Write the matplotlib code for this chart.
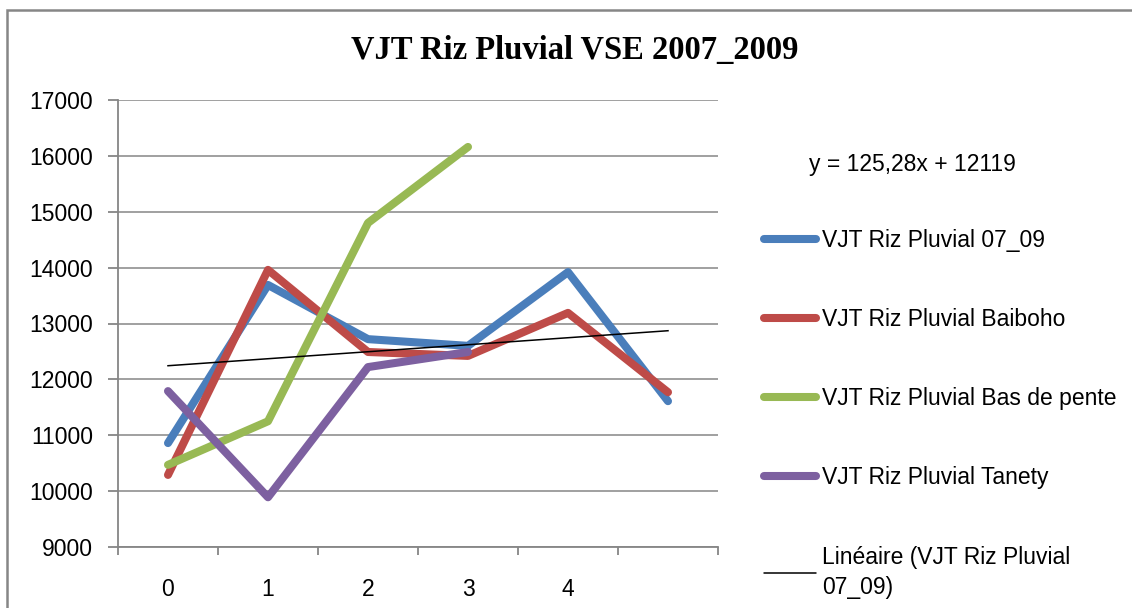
import matplotlib
matplotlib.use("Agg")
import matplotlib.pyplot as plt
from matplotlib.patches import Rectangle
import numpy as np

# ---- data ----
categories = ["0", "1", "2", "3", "4", ""]
serie_07_09 = [10860, 13690, 12720, 12600, 13920, 11610]
serie_baiboho = [10290, 13960, 12490, 12420, 13190, 11770]
serie_bas_de_pente = [10470, 11250, 14800, 16160]
serie_tanety = [11790, 9890, 12220, 12490]
trend_slope = 125.28
trend_intercept = 12119
trend_label = "y = 125,28x + 12119"
series_names = ["VJT Riz Pluvial 07_09", "VJT Riz Pluvial Baiboho",
                "VJT Riz Pluvial Bas de pente", "VJT Riz Pluvial Tanety"]
trend_name = "Linéaire (VJT Riz Pluvial\n07_09)"
title = "VJT Riz Pluvial VSE 2007_2009"
y_ticks = [9000, 10000, 11000, 12000, 13000, 14000, 15000, 16000, 17000]

colors = ["#4A7EBB", "#BE4B48", "#98B954", "#7D60A0"]
grid_col = "#868686"
FONT = "Liberation Sans"
FS = 16.5

W, H = 1132, 608
fig = plt.figure(figsize=(W / 100, H / 100), dpi=100)
ax = fig.add_axes([118 / W, 1 - 547 / H, 600 / W, 447 / H])

all_series = [serie_07_09, serie_baiboho, serie_bas_de_pente, serie_tanety]
for vals, col, name in zip(all_series, colors, series_names):
    x = np.arange(len(vals))
    ax.plot(x, vals, color=col, lw=5.8, solid_capstyle="round",
            solid_joinstyle="round", label=name, zorder=3)

# linear trendline (Excel x = 1..n)
xt = np.arange(len(serie_07_09))
yt = trend_slope * (xt + 1) + trend_intercept
ax.plot(xt, yt, color="black", lw=1.1, label=trend_name, zorder=5)

ax.set_xlim(-0.5, len(categories) - 0.5)
ax.set_ylim(y_ticks[0], y_ticks[-1])
ax.set_yticks(y_ticks)
ax.set_yticklabels([str(v) for v in y_ticks], fontfamily=FONT, fontsize=FS)
ax.set_xticks(np.arange(len(categories) + 1) - 0.5)
ax.set_xticklabels([])
ax.set_xticks(np.arange(len(categories)), minor=True)
ax.set_xticklabels(categories, minor=True, fontfamily=FONT, fontsize=FS)
ax.tick_params(axis="x", which="minor", length=0, pad=22)
ax.tick_params(axis="x", which="major", length=6, width=1.3, color=grid_col, direction="out")
ax.tick_params(axis="y", length=7, width=1.3, color=grid_col, direction="out", pad=11)
ax.grid(axis="y", color=grid_col, lw=1.1, zorder=1)
ax.set_axisbelow(True)
for s in ["top", "right"]:
    ax.spines[s].set_visible(False)
for s in ["left", "bottom"]:
    ax.spines[s].set_color(grid_col)
    ax.spines[s].set_linewidth(1.3)

fig.text(575 / W, 1 - 50 / H, title, ha="center", va="center",
         fontfamily="Liberation Serif", fontweight="bold", fontsize=23.5)

fig.text(912 / W, 1 - 165 / H, trend_label, ha="center", va="center",
         fontfamily=FONT, fontsize=FS)

leg = ax.legend(loc="upper left", bbox_to_anchor=(764 / W, 1 - 229 / H),
                bbox_transform=fig.transFigure, frameon=False,
                prop={"family": FONT, "size": FS}, handlelength=2.25,
                handletextpad=0.3, labelspacing=2.45, borderpad=0, borderaxespad=0)
for h in leg.get_lines():
    h.set_solid_capstyle("round")
leg.get_texts()[-1].set_linespacing(1.4)

fig.patches.append(Rectangle((7 / W, -0.1), 1.2, 1 - 10 / H + 0.1,
                             transform=fig.transFigure, fill=False,
                             edgecolor=grid_col, lw=1.8))

fig.savefig("out.png", dpi=100)
